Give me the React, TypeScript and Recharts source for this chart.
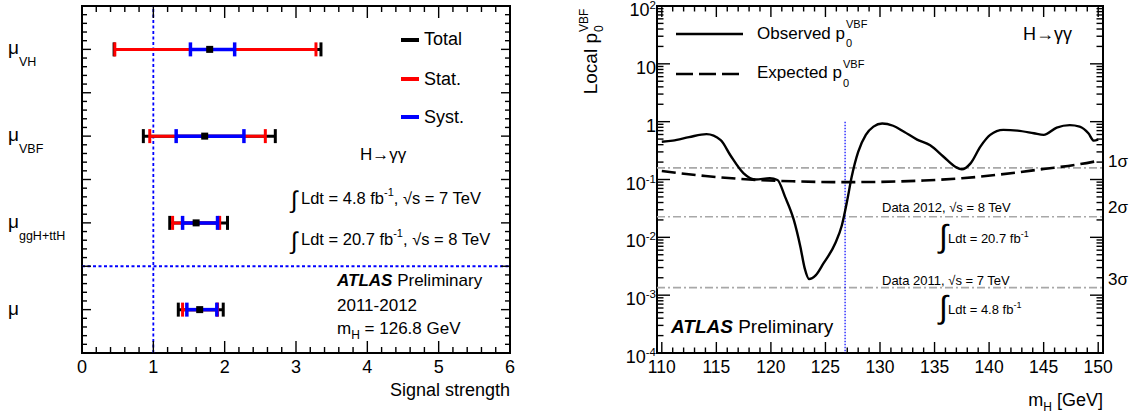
import React from 'react';
import {
  ComposedChart,
  Scatter,
  ErrorBar,
  Line,
  XAxis,
  YAxis,
  ReferenceLine,
  ReferenceArea,
} from 'recharts';

const FONT = '"Liberation Sans", Arial, Helvetica, sans-serif';

// ---- left panel: signal strength per production mode ----
const channels = ['VH', 'VBF', 'ggH+ttH', ''];
const rowPos = [3.5, 2.5, 1.5, 0.5];
const muCentral = [1.79, 1.72, 1.6, 1.65];
const totLow = [1.34, 0.86, 0.37, 0.3];
const totHigh = [1.56, 0.99, 0.44, 0.33];
const statLow = [1.33, 0.77, 0.33, 0.24];
const statHigh = [1.49, 0.85, 0.33, 0.25];
const systLow = [0.27, 0.4, 0.19, 0.18];
const systHigh = [0.35, 0.55, 0.3, 0.24];

// ---- right panel: local p0 vs mH ----
const obsMass = [
  110, 111, 112.5, 114.1, 115.4, 116.3, 117.5, 118.6, 119.9, 120.6, 121.3, 122.1,
  122.7, 123.1, 123.5, 124.1, 124.8, 125.9, 126.5, 127.0, 127.4, 128.0, 128.7,
  129.4, 130.2, 131.2, 132.2, 133.4, 134.6, 135.8, 136.9, 137.5, 138.3, 139.2,
  140.1, 141.3, 142.6, 144.1, 145.0, 146.2, 147.4, 148.3, 149.1, 149.6, 150.0,
];
const obsP0 = [
  0.45, 0.47, 0.54, 0.61, 0.48, 0.26, 0.128, 0.1, 0.105, 0.098, 0.05, 0.02,
  0.0069, 0.0029, 0.0019, 0.0022, 0.0035, 0.0079, 0.016, 0.044, 0.11, 0.3, 0.59,
  0.82, 0.93, 0.85, 0.67, 0.49, 0.39, 0.25, 0.166, 0.15, 0.19, 0.37,
  0.59, 0.72, 0.7, 0.63, 0.59, 0.79, 0.87, 0.82, 0.63, 0.47, 0.49,
];
const expMass = [110, 114, 118, 122, 126, 130, 134, 137.5, 141, 145, 148, 150];
const expP0 = [0.14, 0.115, 0.1, 0.093, 0.09, 0.091, 0.096, 0.105, 0.122, 0.152, 0.18, 0.21];
const sigmaP = [0.1587, 0.02275, 0.00135];
const sigmaLabels = ['1σ', '2σ', '3σ'];
const mHBest = 126.8;

const muRows = muCentral.map((x, i) => ({
  x,
  y: rowPos[i],
  tot: [totLow[i], totHigh[i]],
  stat: [statLow[i], statHigh[i]],
  syst: [systLow[i], systHigh[i]],
}));
const obsRows = obsMass.map((m, i) => ({ m, p: obsP0[i] }));
const expRows = expMass.map((m, i) => ({ m, p: expP0[i] }));

// plot frames (local to each chart)
const LF = { left: 82, right: 510, top: 6, bottom: 353 };
const RF = { left: 97, right: 543, top: 6, bottom: 353 };

const near = (a: number, b: number) => Math.abs(a - b) < 1e-6;

const leftXTicks = Array.from({ length: 31 }, (_, i) => i / 5);
const leftYTicks = Array.from({ length: 41 }, (_, i) => i / 10);
const rightXTicks = Array.from({ length: 41 }, (_, i) => 110 + i);
const rightYTicks: number[] = [];
for (let n = -4; n <= 2; n++) {
  for (let k = 1; k <= (n === 2 ? 1 : 9); k++) {
    rightYTicks.push(Number((k * Math.pow(10, n)).toPrecision(6)));
  }
}

const tickStroke = { stroke: '#000', strokeWidth: 1.4 };

const LeftXTick = (props: any) => {
  const cx = props.x;
  const v = props.payload.value;
  const major = near(v, Math.round(v));
  const len = major ? 12 : 6;
  return (
    <g>
      <line x1={cx} x2={cx} y1={LF.bottom} y2={LF.bottom - len} {...tickStroke} />
      <line x1={cx} x2={cx} y1={LF.top} y2={LF.top + len} {...tickStroke} />
      {major && (
        <text x={cx} y={373} textAnchor="middle" fontSize={18} fontFamily={FONT} fill="#000">
          {Math.round(v)}
        </text>
      )}
    </g>
  );
};

const LeftYTick = (props: any) => {
  const cy = props.y;
  const v = props.payload.value;
  const major = near(v * 2, Math.round(v * 2));
  const len = major ? 9 : 5;
  const idx = rowPos.findIndex((r) => near(r, v));
  return (
    <g>
      <line x1={LF.left} x2={LF.left + len} y1={cy} y2={cy} {...tickStroke} />
      <line x1={LF.right} x2={LF.right - len} y1={cy} y2={cy} {...tickStroke} />
      {idx >= 0 && (
        <text x={8} y={cy + 5} fontSize={19} fontFamily={FONT} fill="#000">
          μ
          {channels[idx] && (
            <tspan fontSize={12.5} dy={12}>
              {channels[idx]}
            </tspan>
          )}
        </text>
      )}
    </g>
  );
};

const RightXTick = (props: any) => {
  const cx = props.x;
  const v = props.payload.value;
  const major = Math.round(v) % 5 === 0;
  const len = major ? 11 : 5.5;
  return (
    <g>
      <line x1={cx} x2={cx} y1={RF.bottom} y2={RF.bottom - len} {...tickStroke} />
      <line x1={cx} x2={cx} y1={RF.top} y2={RF.top + len} {...tickStroke} />
      {major && (
        <text x={cx} y={373} textAnchor="middle" fontSize={17.5} fontFamily={FONT} fill="#000">
          {Math.round(v)}
        </text>
      )}
    </g>
  );
};

const RightYTick = (props: any) => {
  const cy = props.y;
  const v = props.payload.value;
  const lg = Math.log10(v);
  const n = Math.round(lg);
  const major = near(lg, n);
  const len = major ? 13 : 6.5;
  return (
    <g>
      <line x1={RF.left} x2={RF.left + len} y1={cy} y2={cy} {...tickStroke} />
      <line x1={RF.right} x2={RF.right - len} y1={cy} y2={cy} {...tickStroke} />
      {major && (
        <text x={RF.left - 1} y={cy + 10} textAnchor="end" fontSize={18} fontFamily={FONT} fill="#000">
          {n === 0 ? '1' : '10'}
          {n !== 0 && n !== 1 && (
            <tspan fontSize={11.5} dy={-7}>
              {n}
            </tspan>
          )}
        </text>
      )}
    </g>
  );
};

const Square = (props: any) => (
  <rect x={props.cx - 3.5} y={props.cy - 3.5} width={7} height={7} fill="#000" />
);

const txt = { fontFamily: FONT, fill: '#000' };

function SignalStrength() {
  return (
    <ComposedChart width={560} height={416} margin={{ top: 6, right: 50, bottom: 0, left: 0 }}>
      <XAxis
        type="number"
        dataKey="x"
        domain={[0, 6]}
        ticks={leftXTicks}
        interval={0}
        allowDataOverflow
        axisLine={false}
        tickLine={false}
        height={63}
        tick={LeftXTick}
      />
      <YAxis
        type="number"
        dataKey="y"
        domain={[0, 4]}
        ticks={leftYTicks}
        interval={0}
        allowDataOverflow
        axisLine={false}
        tickLine={false}
        width={82}
        tick={LeftYTick}
      />
      <ReferenceLine x={1} stroke="#0000ff" strokeWidth={1.8} strokeDasharray="3 2.5" />
      <ReferenceLine y={1} stroke="#0000ff" strokeWidth={1.8} strokeDasharray="3 2.5" />
      <Scatter data={muRows} shape={Square} isAnimationActive={false}>
        <ErrorBar dataKey="tot" direction="x" width={7} stroke="#000" strokeWidth={3} isAnimationActive={false} />
        <ErrorBar dataKey="stat" direction="x" width={7} stroke="#ff0000" strokeWidth={3} isAnimationActive={false} />
        <ErrorBar dataKey="syst" direction="x" width={7} stroke="#0000ff" strokeWidth={3.5} isAnimationActive={false} />
      </Scatter>
      <ReferenceArea x1={0} x2={6} y1={0} y2={4} fill="none" stroke="#000" strokeWidth={2} />
    </ComposedChart>
  );
}

function PValue() {
  return (
    <ComposedChart width={580} height={416} margin={{ top: 6, right: 37, bottom: 0, left: 0 }}>
      <XAxis
        type="number"
        dataKey="m"
        domain={[109.56, 150.44]}
        ticks={rightXTicks}
        interval={0}
        allowDataOverflow
        axisLine={false}
        tickLine={false}
        height={63}
        tick={RightXTick}
      />
      <YAxis
        type="number"
        scale="log"
        domain={[1e-4, 100]}
        ticks={rightYTicks}
        interval={0}
        allowDataOverflow
        axisLine={false}
        tickLine={false}
        width={97}
        tick={RightYTick}
      />
      {sigmaP.map((p) => (
        <ReferenceLine key={p} y={p} stroke="#a8a8a8" strokeWidth={1.6} strokeDasharray="8 3 2 3" />
      ))}
      <ReferenceLine
        segment={[
          { x: mHBest, y: 1 },
          { x: mHBest, y: 1e-4 },
        ]}
        stroke="#0000ff"
        strokeWidth={1.2}
        strokeDasharray="1.5 1.5"
      />
      <Line
        data={expRows}
        dataKey="p"
        type="monotone"
        dot={false}
        stroke="#000"
        strokeWidth={2.6}
        strokeDasharray="14 6"
        isAnimationActive={false}
      />
      <Line
        data={obsRows}
        dataKey="p"
        type="monotone"
        dot={false}
        stroke="#000"
        strokeWidth={2.4}
        isAnimationActive={false}
      />
      <ReferenceArea x1={109.56} x2={150.44} y1={1e-4} y2={100} fill="none" stroke="#000" strokeWidth={2} />
    </ComposedChart>
  );
}

function Integral({ x, y, size }: { x: number; y: number; size: number }) {
  return (
    <text x={x} y={y} fontSize={size} {...txt}>
      ∫
    </text>
  );
}

export default function App() {
  return (
    <div style={{ position: 'absolute', left: 0, top: 0, width: 1140, height: 416, background: '#fff' }}>
      <div style={{ position: 'absolute', left: 0, top: 0 }}>
        <SignalStrength />
      </div>
      <div style={{ position: 'absolute', left: 560, top: 0 }}>
        <PValue />
      </div>
      <svg
        width={1140}
        height={416}
        style={{ position: 'absolute', left: 0, top: 0, pointerEvents: 'none' }}
      >
        {/* left panel legend */}
        <line x1={401} x2={419} y1={40} y2={40} stroke="#000" strokeWidth={4} />
        <line x1={401} x2={419} y1={79} y2={79} stroke="#ff0000" strokeWidth={4} />
        <line x1={401} x2={419} y1={117} y2={117} stroke="#0000ff" strokeWidth={4} />
        <text x={424} y={45} fontSize={18} {...txt}>Total</text>
        <text x={424} y={85} fontSize={18} {...txt}>Stat.</text>
        <text x={424} y={123} fontSize={18} {...txt}>Syst.</text>

        {/* left panel annotations */}
        <text x={360} y={160} fontSize={17} {...txt}>H→γγ</text>
        <Integral x={291} y={208} size={24} />
        <text x={301} y={204} fontSize={16.5} {...txt}>
          Ldt = 4.8 fb<tspan fontSize={11} dy={-8}>-1</tspan>
          <tspan dy={8}>, √s = 7 TeV</tspan>
        </text>
        <Integral x={291} y={249} size={24} />
        <text x={301} y={245} fontSize={16.5} {...txt}>
          Ldt = 20.7 fb<tspan fontSize={11} dy={-8}>-1</tspan>
          <tspan dy={8}>, √s = 8 TeV</tspan>
        </text>
        <text x={337} y={286} fontSize={17} {...txt}>
          <tspan fontWeight="bold" fontStyle="italic">ATLAS</tspan> Preliminary
        </text>
        <text x={337} y={311} fontSize={17} {...txt}>2011-2012</text>
        <text x={337} y={334} fontSize={17} {...txt}>
          m<tspan fontSize={12} dy={5}>H</tspan>
          <tspan dy={-5}> = 126.8 GeV</tspan>
        </text>
        <text x={510} y={396} textAnchor="end" fontSize={18} {...txt}>Signal strength</text>

        {/* right panel legend */}
        <line x1={676} x2={743} y1={34} y2={34} stroke="#000" strokeWidth={2.6} />
        <line x1={676} x2={743} y1={74} y2={74} stroke="#000" strokeWidth={2.6} strokeDasharray="17 6" />
        <text x={845} y={39} textAnchor="end" fontSize={17} {...txt}>Observed p</text>
        <text x={846} y={28} fontSize={11} {...txt}>VBF</text>
        <text x={846} y={47} fontSize={11} {...txt}>0</text>
        <text x={842} y={78} textAnchor="end" fontSize={17} {...txt}>Expected p</text>
        <text x={843} y={68} fontSize={11} {...txt}>VBF</text>
        <text x={843} y={87} fontSize={11} {...txt}>0</text>

        {/* right panel annotations */}
        <text x={1023} y={40} fontSize={18} {...txt}>H→γγ</text>
        <text x={671} y={333} fontSize={19} {...txt}>
          <tspan fontWeight="bold" fontStyle="italic">ATLAS</tspan> Preliminary
        </text>
        <text x={882} y={212} fontSize={13} {...txt}>Data 2012,  √s = 8 TeV</text>
        <Integral x={939} y={247} size={32} />
        <text x={948} y={243} fontSize={13} {...txt}>
          Ldt = 20.7 fb<tspan fontSize={9} dy={-6}>-1</tspan>
        </text>
        <text x={882} y={285} fontSize={13} {...txt}>Data 2011,  √s = 7 TeV</text>
        <Integral x={939} y={318} size={32} />
        <text x={948} y={314} fontSize={13} {...txt}>
          Ldt = 4.8 fb<tspan fontSize={9} dy={-6}>-1</tspan>
        </text>
        {sigmaLabels.map((s, i) => (
          <text key={s} x={1108} y={[167, 213, 285][i]} fontSize={17} {...txt}>
            {s}
          </text>
        ))}
        <text x={1103} y={406} textAnchor="end" fontSize={18} {...txt}>
          m<tspan fontSize={12} dy={5}>H</tspan>
          <tspan dy={-5}> [GeV]</tspan>
        </text>
        <g transform="translate(597, 33) rotate(-90)">
          <text x={0} y={0} textAnchor="end" fontSize={19} {...txt}>Local p</text>
          <text x={1} y={-9} fontSize={12} {...txt}>VBF</text>
          <text x={1} y={6} fontSize={12} {...txt}>0</text>
        </g>
      </svg>
    </div>
  );
}
